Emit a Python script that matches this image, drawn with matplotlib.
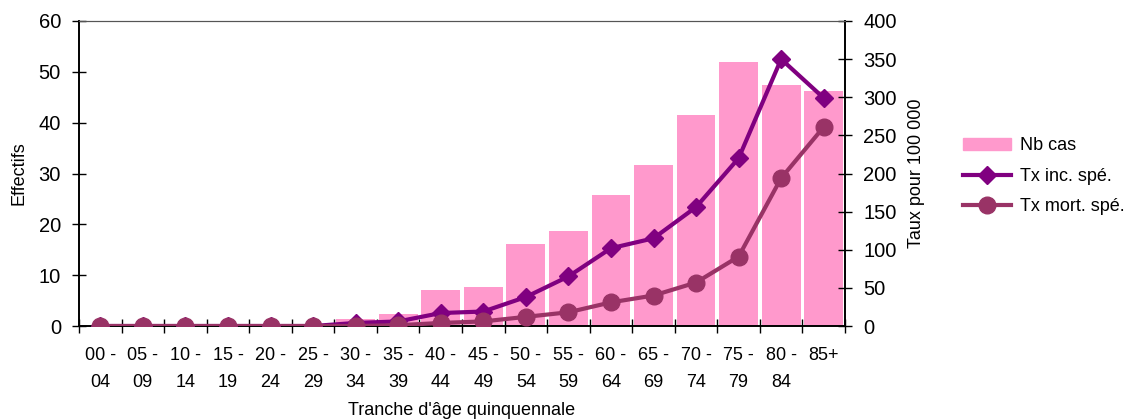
import numpy as np
from matplotlib import pyplot as plt
from matplotlib.patches import Patch
from matplotlib.lines import Line2D

plt.rcParams['font.family'] = ['Liberation Sans', 'DejaVu Sans']

tranches = ['00 -\n04', '05 -\n09', '10 -\n14', '15 -\n19', '20 -\n24', '25 -\n29',
            '30 -\n34', '35 -\n39', '40 -\n44', '45 -\n49', '50 -\n54', '55 -\n59',
            '60 -\n64', '65 -\n69', '70 -\n74', '75 -\n79', '80 -\n84', '85+']
nb_cas = [0, 0, 0, 0, 0, 0, 1.4, 2.4, 7.1, 7.7, 16.1, 18.7, 25.8, 31.6, 41.5, 52.0, 47.4, 46.3]
tx_inc = [0, 0, 0, 0, 0, 0, 4, 6, 17, 19, 38, 65, 102, 115, 156, 220, 350, 299]
tx_mort = [0, 0, 0, 0, 0, 0, 0, 1, 4, 6, 12, 18, 31, 40, 57, 91, 194, 261]

pink = '#FF99CC'
purple = '#800080'
plum = '#993366'

fig = plt.figure(figsize=(11.47, 4.2), dpi=100)
ax = fig.add_axes([0.0689, 0.2238, 0.6678, 0.7262])
ax2 = ax.twinx()

x = np.arange(len(tranches))
ax.bar(x, nb_cas, width=0.91, color=pink, zorder=1)
ax2.plot(x, tx_inc, color=purple, lw=3, marker='D', ms=9.5, zorder=3)
ax2.plot(x, tx_mort, color=plum, lw=3, marker='o', ms=12, zorder=4)

ax.set_xlim(-0.5, len(tranches) - 0.5)
ax.set_ylim(0, 60)
ax2.set_ylim(0, 400)
ax.set_yticks(range(0, 61, 10))
ax2.set_yticks(range(0, 401, 50))
ax.set_xticks(x)
ax.set_xticklabels(tranches, linespacing=1.8)
ax.set_xticks(np.arange(-0.5, len(tranches)), minor=True)
ax.tick_params(axis='x', which='major', length=0, pad=15, labelsize=13)
ax.tick_params(axis='x', which='minor', direction='inout', length=10, width=1)
ax.tick_params(axis='y', direction='inout', length=10, width=1, labelsize=14.5, pad=8)
ax2.tick_params(axis='y', direction='inout', length=10, width=1, labelsize=14.5, pad=8)

for a in (ax, ax2):
    a.spines['top'].set_color('#555555')
    a.spines['top'].set_linewidth(0.8)
    for s in ('left', 'right', 'bottom'):
        a.spines[s].set_linewidth(1.2)

ax.set_xlabel("Tranche d'âge quinquennale", fontsize=13, labelpad=8)
ax.set_ylabel('Effectifs', fontsize=13, labelpad=8)
ax2.set_ylabel('Taux pour 100 000', fontsize=13, labelpad=8)

handles = [Patch(color=pink, label='Nb cas'),
           Line2D([], [], color=purple, lw=3, marker='D', ms=9.5, label='Tx inc. spé.'),
           Line2D([], [], color=plum, lw=3, marker='o', ms=12, label='Tx mort. spé.')]
fig.legend(handles=handles, loc='center left', bbox_to_anchor=(0.825, 0.58),
           frameon=False, fontsize=13, handlelength=2.7, handletextpad=0.5,
           labelspacing=0.75)

fig.savefig('out.png', dpi=100)
